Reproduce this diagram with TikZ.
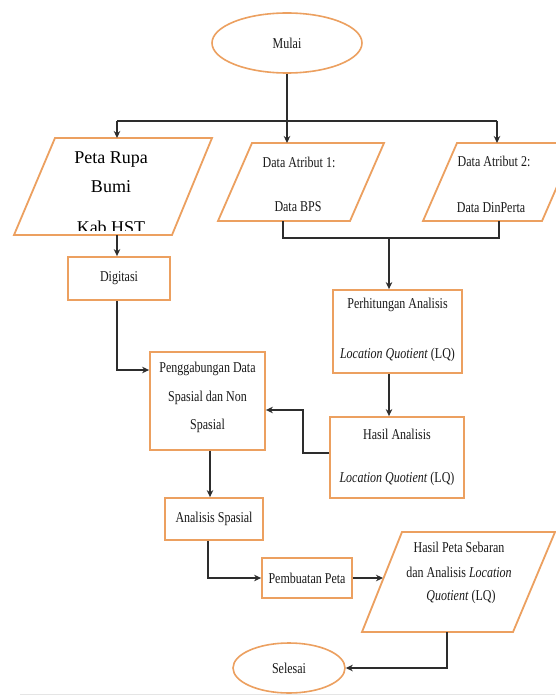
\documentclass[tikz,border=0pt]{standalone}
\usepackage{fontspec}
\setmainfont{Liberation Serif}
\usepackage{graphicx}
\usetikzlibrary{arrows.meta,shapes.geometric}
\definecolor{orng}{RGB}{236,160,96}
\definecolor{lnk}{RGB}{45,45,45}
\newcommand{\sq}[1]{\scalebox{0.8}[1]{#1}}
\tikzset{
  box/.style={draw=orng, line width=1.8pt, fill=white, inner sep=0pt},
  oval/.style={ellipse, draw=orng, line width=1.6pt, fill=white, inner sep=0pt},
  para/.style={draw=orng, line width=1.8pt, fill=white, line join=miter},
  txt/.style={inner sep=0pt, text=black!90, font=\fontsize{15}{17}\selectfont},
  bigtxt/.style={inner sep=0pt, font=\fontsize{18}{20}\selectfont},
  link/.style={draw=lnk, line width=2pt},
  arr/.style={link, -{Stealth[length=7pt,width=6.5pt]}}
}
\begin{document}
\begin{tikzpicture}[x=1pt,y=-1pt]
\useasboundingbox (0,0) rectangle (555,698);
\fill[white] (0,0) rectangle (555,698);
\draw[gray!20, line width=1pt] (20,694) -- (555,694);

% start
\node[oval, minimum width=150pt, minimum height=60pt] (mulai) at (287,43) {};
\node[txt] (tmulai) at (287,43) {\sq{Mulai}};

% parallelograms
\draw[para] (55,138) -- (212,138) -- (172,235) -- (14,235) -- cycle;
\draw[para] (252,143) -- (384,143) -- (350,221) -- (218,221) -- cycle;
\draw[para] (457,143) -- (576,143) -- (542,221) -- (423,221) -- cycle;
\draw[para] (402,532) -- (555,532) -- (513,632) -- (362,632) -- cycle;

\node[bigtxt] (p1) at (111,160) {Peta Rupa};
\node[bigtxt] (p2) at (111,187) {Bumi};
\begin{scope}
\clip (0,0) rectangle (555,230);
\node[bigtxt] (p3) at (111,227) {Kab HST};
\end{scope}

\node[txt] (a1) at (299,162) {\sq{Data Atribut 1:}};
\node[txt] (a2) at (298,207) {\sq{Data BPS}};
\node[txt] (b1) at (494,161) {\sq{Data Atribut 2:}};
\node[txt] (b2) at (491,208) {\sq{Data DinPerta}};

\node[txt] (h1) at (459,547) {\sq{Hasil Peta Sebaran}};
\node[txt] (h2) at (459,572) {\sq{dan Analisis \textit{Location}}};
\node[txt] (h3) at (461,597) {\sq{\textit{Quotient} (LQ)}};

% rectangles
\node[box, minimum width=102pt, minimum height=43pt] (dig) at (119,278.5) {};
\node[txt] (tdig) at (119,278.5) {\sq{Digitasi}};

\node[box, minimum width=129pt, minimum height=83pt] (perh) at (397.5,331.5) {};
\node[txt] (tp1) at (397.5,305) {\sq{Perhitungan Analisis}};
\node[txt] (tp2) at (397.5,355) {\sq{\textit{Location Quotient} (LQ)}};

\node[box, minimum width=115pt, minimum height=98pt] (pengg) at (207.5,401) {};
\node[txt] (tg1) at (207.5,369) {\sq{Penggabungan Data}};
\node[txt] (tg2) at (207.5,398) {\sq{Spasial dan Non}};
\node[txt] (tg3) at (207.5,426) {\sq{Spasial}};

\node[box, minimum width=134pt, minimum height=81pt] (hasil) at (397,457.5) {};
\node[txt] (th1) at (397,434) {\sq{Hasil Analisis}};
\node[txt] (th2) at (397,479) {\sq{\textit{Location Quotient} (LQ)}};

\node[box, minimum width=98pt, minimum height=42pt] (as) at (214,519) {};
\node[txt] (tas) at (214,519) {\sq{Analisis Spasial}};

\node[box, minimum width=90pt, minimum height=40pt] (pemb) at (307,578) {};
\node[txt] (tpemb) at (307,578) {\sq{Pembuatan Peta}};

\node[oval, minimum width=112pt, minimum height=50pt] (selesai) at (289,668) {};
\node[txt] (tsel) at (289,668) {\sq{Selesai}};

% named coordinates for parallelogram ports
\coordinate (petat) at (117,138);
\coordinate (petab) at (117,235);
\coordinate (da1t) at (287,143);
\coordinate (da2t) at (497,143);
\coordinate (da1b) at (283,221);
\coordinate (da2b) at (499,221);
\coordinate (barL) at (117,121);
\coordinate (barR) at (497,121);
\coordinate (joinL) at (283,238);
\coordinate (joinR) at (499,238);
\coordinate (joinM) at (389,238);
\coordinate (hpl) at (383,578);
\coordinate (hpb) at (447,632);
\coordinate (k1) at (117,370);
\coordinate (k2) at (303,453);
\coordinate (k3) at (303,410);
\coordinate (k4) at (210,0);
\coordinate (k5) at (208,578);

% connectors
\draw[arr] (mulai.south) -- (da1t);
\draw[link] (barL) -- (barR);
\draw[arr] (barL) -- (petat);
\draw[arr] (barR) -- (da2t);
\draw[link] (da1b) -- (joinL) -- (joinR) -- (da2b);
\draw[arr] (joinM) -- (joinM |- perh.north);
\draw[arr] (petab) -- (petab |- dig.north);
\draw[arr] (dig.south -| k1) -- (k1) -- (k1 -| pengg.west);
\draw[arr] (perh.south -| joinM) -- (hasil.north -| joinM);
\draw[arr] (k2 -| hasil.west) -- (k2) -- (k3) -- (k3 -| pengg.east);
\draw[arr] (pengg.south -| k4) -- (as.north -| k4);
\draw[arr] (as.south -| k5) -- (k5) -- (pemb.west);
\draw[arr] (pemb.east) -- (hpl);
\draw[arr] (hpb) |- (selesai.east);
\end{tikzpicture}
\end{document}
